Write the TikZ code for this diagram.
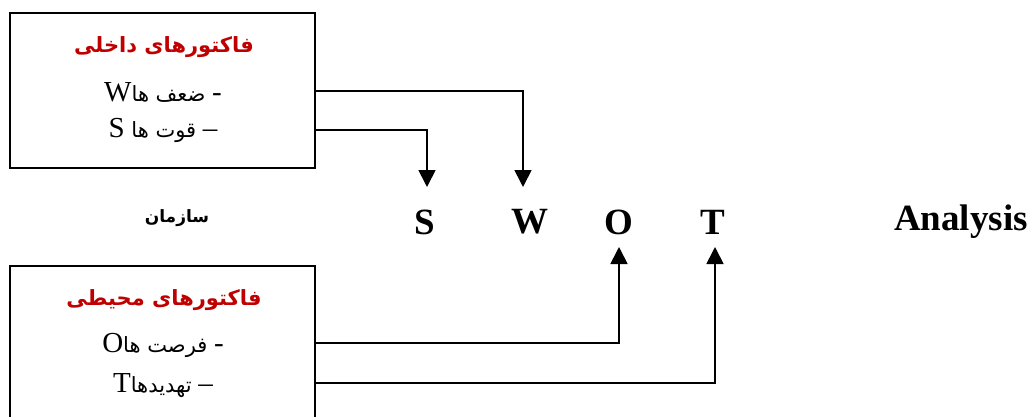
\documentclass[tikz,border=0pt]{standalone}
\usepackage{fontspec}
\setmainfont{Liberation Serif}
\newfontfamily\fa[Script=Arabic]{DejaVu Sans}
\TeXXeTstate=1
\usetikzlibrary{arrows.meta}
\definecolor{headred}{RGB}{192,0,0}
\tikzset{
  box/.style={draw=black, line width=1.7pt, minimum width=305pt, minimum height=155pt, inner sep=0pt},
  head/.style={text=headred, font=\fa\bfseries\fontsize{21}{24}\selectfont, inner sep=0pt},
  line/.style={font=\fontsize{29}{32}\selectfont, inner sep=0pt},
  letter/.style={font=\bfseries\fontsize{37}{40}\selectfont, inner sep=0pt},
  conn/.style={draw=black, line width=1.7pt, -{Triangle[width=17pt,length=17pt]}},
}
\newcommand{\faw}[1]{{\fa\fontsize{21}{24}\selectfont #1}}
\begin{document}
\begin{tikzpicture}[x=1pt,y=-1pt]
\useasboundingbox (0,0) rectangle (1032,417);
% boxes
\node[box] (b1) at (162.5,90.5) {};
\node[box] (b2) at (162.5,343.5) {};
% box texts
\node[head] (h1) at (164,47) {\beginR فاکتورهای داخلی\endR};
\node[line] (tW) at (163,92) {\beginR -\faw{ ضعف ها}W\endR};
\node[line] (tS) at (163,130) {\beginR –\faw{ قوت ها }S\endR};
\node[head] (h2) at (164,300) {\beginR فاکتورهای محیطی\endR};
\node[line] (tO) at (163,345) {\beginR -\faw{ فرصت ها}O\endR};
\node[line] (tT) at (163,386) {\beginR –\faw{ تهدیدها}T\endR};
% middle row
\node[font=\fa\bfseries\fontsize{17}{20}\selectfont, inner sep=0pt] (org) at (177,218) {\beginR سازمان\endR};
\node[letter] (S) at (425,222) {S};
\node[letter] (W) at (530,222) {W};
\node[letter] (O) at (619,222) {O};
\node[letter] (T) at (713,222) {T};
\node[letter] (A) at (961,222) {Analysis};
% arrow tips
\coordinate (aS) at (427,187);
\coordinate (aW) at (523,187);
\coordinate (aO) at (619,247);
\coordinate (aT) at (715,247);
% connectors
\draw[conn] (tW -| b1.east) ++(0,-1) -| (aW);
\draw[conn] (tS -| b1.east) -| (aS);
\draw[conn] (tO -| b1.east) ++(0,-2) -| (aO);
\draw[conn] (tT -| b1.east) ++(0,-3) -| (aT);
\end{tikzpicture}
\end{document}
